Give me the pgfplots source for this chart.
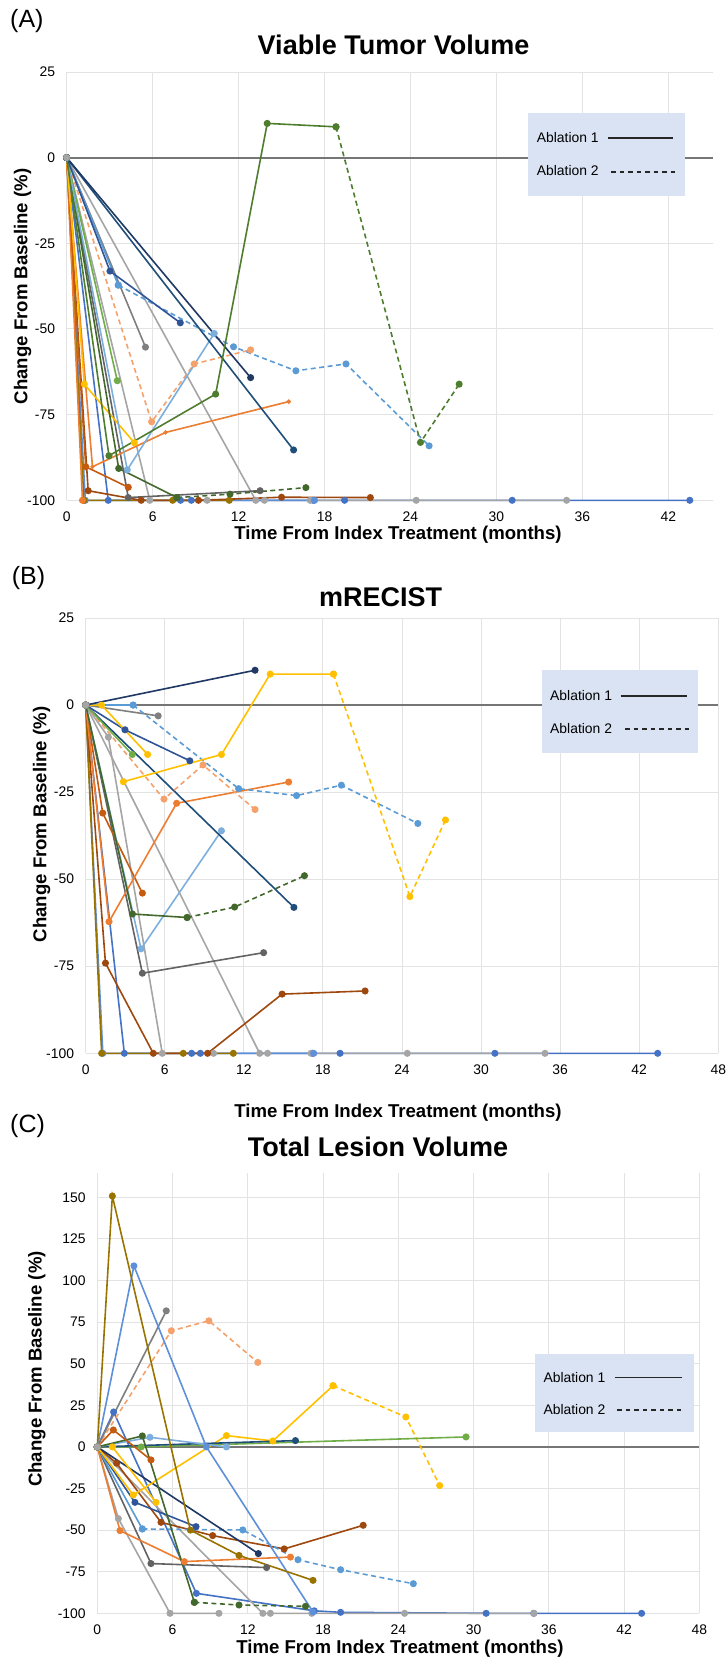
\documentclass[border=0pt]{standalone}
\usepackage{fontspec}
\setmainfont{Liberation Sans}
\usepackage{pgfplots}
\pgfplotsset{compat=1.18}

\definecolor{cnavy}{HTML}{203864}
\definecolor{csteel}{HTML}{1F4E79}
\definecolor{cdblue}{HTML}{2F5597}
\definecolor{cblue}{HTML}{4472C4}
\definecolor{cmblue}{HTML}{5E8FD9}
\definecolor{clblue}{HTML}{5B9BD5}
\definecolor{cllblue}{HTML}{7CAFDD}
\definecolor{corange}{HTML}{ED7D31}
\definecolor{clorange}{HTML}{F4A16C}
\definecolor{cdorange}{HTML}{C55A11}
\definecolor{cbrown}{HTML}{9E480E}
\definecolor{cyellow}{HTML}{FFC000}
\definecolor{colive}{HTML}{997300}
\definecolor{cgreen}{HTML}{70AD47}
\definecolor{cdgreen}{HTML}{4E7D2E}
\definecolor{cddgreen}{HTML}{43682B}
\definecolor{cgray}{HTML}{A5A5A5}
\definecolor{cdgray}{HTML}{7F7F7F}
\definecolor{cddgray}{HTML}{636363}
\definecolor{legfill}{HTML}{DAE3F3}
\definecolor{gridc}{HTML}{E3E3E3}
\definecolor{zeroc}{HTML}{767676}

\newcommand\tfont{\fontsize{27}{32}\selectfont\bfseries}
\newcommand\lfont{\fontsize{18.6}{22}\selectfont\bfseries}
\newcommand\pfont{\fontsize{25}{30}\selectfont}
\newcommand\kfont{\fontsize{13.9}{16}\selectfont}

\pgfplotsset{
  panel/.style={scale only axis, anchor=south west, clip=false,
    axis line style={draw=none}, major tick length=0pt,
    grid=major, grid style={gridc, line width=1pt},
    xmin=0, ymin=-100,
    /pgf/number format/assume math mode=true,
    tick label style={font=\kfont},
    xticklabel style={anchor=north, inner sep=0pt, yshift=-11pt},
    yticklabel style={anchor=east, inner sep=0pt, xshift=-11.5pt}},
  s/.style={color=#1, line width=1.6pt, mark=*, mark size=2.7pt, mark options={solid, fill=#1}},
  d/.style={s=#1, dash pattern=on 5pt off 3.5pt},
}

\begin{document}
\begin{tikzpicture}
\useasboundingbox (0pt,0pt) rectangle (727pt,-1660pt);

% ---------------- (A) viable tumor volume
\begin{axis}[panel, at={(66.7pt,-500.3pt)}, width=646pt, height=428.3pt,
  xmax=45.1, ymax=25, xtick={0,6,...,42}, ytick={-100,-75,...,25}]
\draw[zeroc, line width=2pt] (axis cs:0,0) -- (axis cs:45.1,0);
\addplot[s=cblue] coordinates {(0,0)(2.9,-100)(7.95,-100)(8.7,-100)(17.2,-100)(19.4,-100)(31.1,-100)(43.5,-100)};
\addplot[s=cgray] coordinates {(0,0)(13.2,-100)(13.8,-100)(17.0,-100)(24.4,-100)(34.9,-100)};
\addplot[s=cmblue] coordinates {(0,0)(1.3,-100)(17.3,-100)};
\addplot[s=cgray] coordinates {(0,0)(5.8,-100)(9.8,-100)};
\addplot[s=colive] coordinates {(0,0)(1.2,-100)(7.4,-100)(11.35,-100)};
\addplot[s=cbrown] coordinates {(0,0)(1.5,-97.2)(5.2,-100)(9.2,-100)(15.0,-99.1)(21.2,-99.2)};
\addplot[s=corange] coordinates {(0,0)(1.1,-100)};
\addplot[s=cddgray] coordinates {(0,0)(4.3,-99.2)(13.5,-97.2)};
\addplot[s=cdorange] coordinates {(0,0)(1.33,-90.2)(4.3,-96.2)};
\addplot[s=corange, mark size=1.3pt] coordinates {(0,0)(1.8,-90.2)(6.9,-80.2)(15.5,-71.2)};
\addplot[s=cyellow] coordinates {(0,0)(1.23,-66.1)(4.72,-83.2)};
\addplot[s=cgreen] coordinates {(0,0)(3.53,-65.1)};
\addplot[s=cdgray] coordinates {(0,0)(5.5,-55.3)};
\addplot[d=clorange] coordinates {(0,0)(5.93,-77.1)(8.9,-60.2)(12.84,-56.1)};
\addplot[s=cddgreen] coordinates {(0,0)(3.63,-90.7)(7.7,-99.2)};
\addplot[d=cddgreen] coordinates {(7.7,-99.2)(11.4,-98.2)(16.7,-96.3)};
\addplot[s=cllblue] coordinates {(0,0)(4.23,-91.1)(10.3,-51.3)};
\addplot[s=clblue] coordinates {(0,0)(3.6,-37.2)};
\addplot[d=clblue] coordinates {(3.6,-37.2)(11.65,-55.2)(16,-62.2)(19.5,-60.2)(25.3,-84.1)};
\addplot[s=cdblue] coordinates {(0,0)(3.02,-33.1)(7.93,-48.2)};
\addplot[s=csteel] coordinates {(0,0)(15.84,-85.3)};
\addplot[s=cnavy] coordinates {(0,0)(12.84,-64.2)};
\addplot[s=cdgreen] coordinates {(0,0)(2.95,-87)(10.4,-69)(14.0,10)(18.8,9)};
\addplot[d=cdgreen] coordinates {(18.8,9)(24.7,-83.1)(27.4,-66.1)};
\addplot[s=cgray, only marks] coordinates {(0,0)};
\end{axis}

% ---------------- (B) mRECIST
\begin{axis}[panel, at={(85.7pt,-1053.3pt)}, width=632.6pt, height=435.3pt,
  xmax=48, ymax=25, xtick={0,6,...,48}, ytick={-100,-75,...,25}]
\draw[zeroc, line width=2pt] (axis cs:0,0) -- (axis cs:48,0);
\addplot[s=cblue] coordinates {(0,0)(2.93,-100)(8.04,-100)(8.7,-100)(17.2,-100)(19.3,-100)(31.05,-100)(43.4,-100)};
\addplot[s=cgray] coordinates {(0,0)(13.2,-100)(13.8,-100)(17.1,-100)(24.4,-100)(34.85,-100)};
\addplot[s=cmblue] coordinates {(0,0)(1.3,-100)(17.3,-100)};
\addplot[s=colive] coordinates {(0,0)(1.21,-100)(7.4,-100)(11.2,-100)};
\addplot[s=cgray] coordinates {(0,0)(1.72,-9.2)(5.81,-100)(9.7,-100)};
\addplot[s=cbrown] coordinates {(0,0)(1.5,-74.1)(5.13,-100)(9.25,-100)(14.9,-83)(21.2,-82.1)};
\addplot[s=cddgray] coordinates {(0,0)(4.3,-77)(13.5,-71.1)};
\addplot[s=cdorange] coordinates {(0,0)(1.29,-31)(4.3,-54)};
\addplot[s=corange] coordinates {(0,0)(1.77,-62.2)(6.9,-28.2)(15.4,-22.1)};
\addplot[s=cllblue] coordinates {(0,0)(4.2,-70)(10.3,-36.1)};
\addplot[s=cddgreen] coordinates {(0,0)(3.55,-60)(7.7,-61)};
\addplot[d=cddgreen] coordinates {(7.7,-61)(11.3,-58)(16.6,-49)};
\addplot[s=csteel] coordinates {(0,0)(15.8,-58.1)};
\addplot[d=clorange] coordinates {(0,0)(5.94,-27)(8.9,-17.2)(12.85,-30)};
\addplot[s=cgreen] coordinates {(0,0)(3.54,-14.2)};
\addplot[s=cdblue] coordinates {(0,0)(2.98,-7.1)(7.9,-16)};
\addplot[s=cdgray] coordinates {(0,0)(5.5,-3.1)};
\addplot[s=clblue] coordinates {(0,0)(3.6,0)};
\addplot[d=clblue] coordinates {(3.6,0)(11.6,-24)(16,-26)(19.4,-23)(25.2,-34)};
\addplot[s=cyellow] coordinates {(0,0)(1.2,0)(4.7,-14.2)};
\addplot[s=cyellow] coordinates {(2.86,-22)(10.3,-14.2)(14.0,8.9)(18.8,8.9)};
\addplot[d=cyellow] coordinates {(18.8,8.9)(24.6,-55)(27.3,-33)};
\addplot[s=cnavy] coordinates {(0,0)(12.85,10)};
\addplot[s=cgray, only marks] coordinates {(0,0)};
\end{axis}

% ---------------- (C) total lesion volume
\begin{axis}[panel, at={(97.3pt,-1613.3pt)}, width=602pt, height=440.6pt,
  xmax=48, ymax=164.8, xtick={0,6,...,48}, ytick={-100,-75,...,150}]
\draw[zeroc, line width=2pt] (axis cs:0,0) -- (axis cs:48,0);
\addplot[s=cblue] coordinates {(0,0)(1.3,21)(7.9,-88)(17.3,-98.5)(19.4,-99.4)(31.0,-100)(34.8,-100)(43.4,-100)};
\addplot[s=cgray] coordinates {(0,0)(13.2,-100)(13.8,-100)(17.1,-100)(24.5,-100)(34.8,-100)};
\addplot[s=cgray] coordinates {(0,0)(1.68,-43.1)(5.8,-100)(9.7,-100)};
\addplot[s=cddgray] coordinates {(0,0)(4.28,-70.1)(13.5,-72.5)};
\addplot[s=corange] coordinates {(0,0)(1.81,-50.3)(6.94,-68.9)(15.4,-66.2)};
\addplot[s=cbrown] coordinates {(0,0)(1.54,-9.8)(5.08,-45.3)(9.2,-53.3)(14.9,-61.3)(21.2,-47.1)};
\addplot[s=clblue] coordinates {(0,0)(3.59,-49.3)};
\addplot[d=clblue] coordinates {(3.59,-49.3)(11.6,-49.9)(16.0,-67.8)(19.4,-73.8)(25.2,-82.2)};
\addplot[s=cdblue] coordinates {(0,0)(3.0,-33.3)(7.87,-47.9)};
\addplot[s=cnavy] coordinates {(0,0)(12.84,-64.1)};
\addplot[s=cyellow] coordinates {(0,0)(1.2,0)(4.68,-33.3)};
\addplot[s=cyellow] coordinates {(0,0)(2.87,-28.9)(10.3,6.8)(14.0,3.6)(18.8,36.8)};
\addplot[d=cyellow] coordinates {(18.8,36.8)(24.6,18)(27.3,-23.2)};
\addplot[s=cgreen] coordinates {(0,0)(3.5,0)(29.4,6)};
\addplot[s=csteel] coordinates {(0,0)(15.8,3.8)};
\addplot[s=cllblue] coordinates {(0,0)(4.2,5.8)(10.3,0)};
\addplot[s=cddgreen] coordinates {(0,0)(3.59,6.6)(7.74,-93.4)};
\addplot[d=cddgreen] coordinates {(7.74,-93.4)(11.3,-95)(16.6,-95.8)};
\addplot[s=cdorange] coordinates {(0,0)(1.28,10.2)(4.28,-7.8)};
\addplot[d=clorange] coordinates {(0,0)(5.9,69.8)(8.9,75.8)(12.8,50.8)};
\addplot[s=cdgray] coordinates {(0,0)(5.5,81.8)};
\addplot[s=cmblue] coordinates {(0,0)(2.92,108.8)(8.7,0)(17.2,-99.2)};
\addplot[s=colive] coordinates {(0,0)(1.2,150.8)(7.42,-50)(11.3,-65.2)(17.2,-80.2)};
\addplot[s=cgray, only marks] coordinates {(0,0)};
\end{axis}

% legends
\fill[legfill] (528pt,-112.7pt) rectangle (685pt,-196pt);
\node[font=\kfont, anchor=west, inner sep=0pt] at (536.7pt,-138pt) {Ablation 1};
\node[font=\kfont, anchor=west, inner sep=0pt] at (536.7pt,-171pt) {Ablation 2};
\draw[black!85, line width=1.6pt] (608pt,-137.7pt) -- (673pt,-137.7pt);
\draw[black!85, line width=1.6pt, dash pattern=on 4.5pt off 4pt] (611pt,-171.7pt) -- (676pt,-171.7pt);

\fill[legfill] (541.7pt,-670pt) rectangle (698.3pt,-753.3pt);
\node[font=\kfont, anchor=west, inner sep=0pt] at (550pt,-696pt) {Ablation 1};
\node[font=\kfont, anchor=west, inner sep=0pt] at (550pt,-729pt) {Ablation 2};
\draw[black!85, line width=1.6pt] (620.7pt,-696pt) -- (687.3pt,-696pt);
\draw[black!85, line width=1.6pt, dash pattern=on 4.5pt off 4pt] (625pt,-729pt) -- (689.3pt,-729pt);

\fill[legfill] (534.7pt,-1354pt) rectangle (693.7pt,-1431.7pt);
\node[font=\kfont, anchor=west, inner sep=0pt] at (543.3pt,-1377.3pt) {Ablation 1};
\node[font=\kfont, anchor=west, inner sep=0pt] at (543.3pt,-1410pt) {Ablation 2};
\draw[black!85, line width=1.6pt] (615pt,-1377.3pt) -- (682.3pt,-1377.3pt);
\draw[black!85, line width=1.6pt, dash pattern=on 4.5pt off 4pt] (617.3pt,-1410pt) -- (682.3pt,-1410pt);

% titles and labels
\node[font=\pfont, anchor=west, inner sep=0pt] at (10pt,-20.6pt) {(A)};
\node[font=\pfont, anchor=west, inner sep=0pt] at (11.6pt,-578pt) {(B)};
\node[font=\pfont, anchor=west, inner sep=0pt] at (10pt,-1126pt) {(C)};
\node[font=\tfont] at (393.5pt,-44.7pt) {Viable Tumor Volume};
\node[font=\tfont] at (380.6pt,-597pt) {mRECIST};
\node[font=\tfont] at (378pt,-1147pt) {Total Lesion Volume};
\node[font=\lfont] at (398pt,-535pt) {Time From Index Treatment (months)};
\node[font=\lfont] at (398pt,-1113pt) {Time From Index Treatment (months)};
\node[font=\lfont] at (400pt,-1649pt) {Time From Index Treatment (months)};
\node[font=\lfont, rotate=90] at (22.7pt,-286.4pt) {Change From Baseline (\%)};
\node[font=\lfont, rotate=90] at (41.5pt,-824.5pt) {Change From Baseline (\%)};
\node[font=\lfont, rotate=90] at (36.8pt,-1369pt) {Change From Baseline (\%)};
\end{tikzpicture}
\end{document}
